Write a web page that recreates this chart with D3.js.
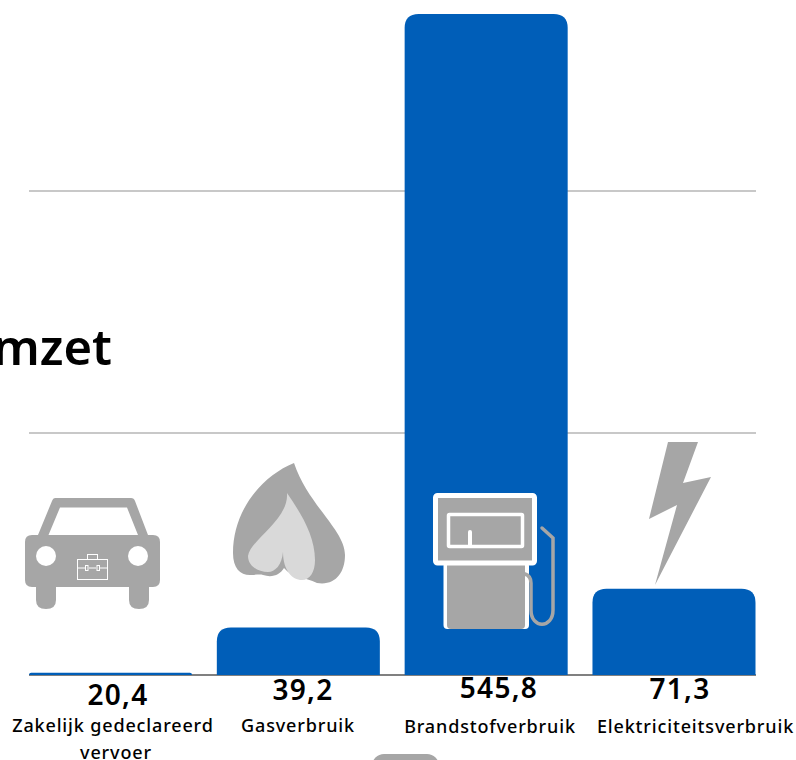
<!DOCTYPE html>
<html>
<head>
<meta charset="utf-8">
<script src="https://cdn.jsdelivr.net/npm/d3@7"></script>
<style>
html, body { margin: 0; padding: 0; background: #fff; overflow: hidden; }
text { font-family: "Noto Sans", sans-serif; fill: #000; }
</style>
</head>
<body>
<div id="chart"></div>
<script>
const categories = ['Zakelijk gedeclareerd vervoer', 'Gasverbruik', 'Brandstofverbruik', 'Elektriciteitsverbruik'];
// bar heights as drawn: the first bar is far lower than its printed label
const barValues = [1.8, 39.2, 545.8, 71.3];
const valueLabels = ['20,4', '39,2', '545,8', '71,3'];
const gridValues = [200, 400];

const width = 796, height = 760;
const BLUE = '#005eb8', GREY = '#a6a6a6';

const svg = d3.select('#chart').append('svg')
    .attr('width', width)
    .attr('height', height)
    .style('display', 'block');

const x = d3.scaleBand().domain(categories).range([29, 755.5]).paddingInner(0.132).paddingOuter(0);
const y = d3.scaleLinear().domain([0, 545.8]).range([675, 14]);

// title runs off the left edge in the original
svg.append('text')
    .attr('x', 112).attr('y', 365)
    .attr('text-anchor', 'end')
    .style('font-size', '49px').style('font-weight', 600)
    .text('Omzet');

svg.append('g').selectAll('line')
    .data(gridValues)
    .join('line')
    .attr('x1', 29).attr('x2', 756)
    .attr('y1', d => Math.round(y(d))).attr('y2', d => Math.round(y(d)))
    .attr('stroke', '#c8c8c8').attr('stroke-width', 2);

svg.append('line')
    .attr('x1', 29).attr('x2', 756)
    .attr('y1', y(0)).attr('y2', y(0))
    .attr('stroke', '#808080').attr('stroke-width', 2);

const barPath = (d) => {
    const x0 = x(d.c), x1 = x0 + x.bandwidth(), top = y(d.v), bottom = y(0);
    const r = Math.min(14, bottom - top);
    return 'M' + x0 + ',' + bottom + 'V' + (top + r) + 'Q' + x0 + ',' + top + ' ' + (x0 + r) + ',' + top
        + 'H' + (x1 - r) + 'Q' + x1 + ',' + top + ' ' + x1 + ',' + (top + r) + 'V' + bottom + 'Z';
};

svg.append('g').selectAll('path')
    .data(categories.map((c, i) => ({ c: c, v: barValues[i] })))
    .join('path')
    .attr('d', barPath)
    .attr('fill', BLUE);

// value labels sit at slightly different heights in the original
const labelBase = [705, 700, 698, 699];
const labelCenter = [118, 303, 499, 680];
svg.append('g').selectAll('text')
    .data(valueLabels)
    .join('text')
    .attr('x', (d, i) => labelCenter[i])
    .attr('y', (d, i) => labelBase[i])
    .attr('text-anchor', 'middle')
    .style('font-size', '28px').style('font-weight', 600)
    .style('letter-spacing', '1.3px')
    .text(d => d);

const catLines = [['Zakelijk gedeclareerd', 'vervoer'], ['Gasverbruik'], ['Brandstofverbruik'], ['Elektriciteitsverbruik']];
const catCenter = [113, 298, 490, 695.5];
const catBase = [732, 732, 733, 733];
const catG = svg.append('g').selectAll('text')
    .data(catLines)
    .join('text')
    .attr('text-anchor', 'middle')
    .style('font-size', '18px').style('font-weight', 500)
    .style('letter-spacing', '0.85px');
catG.selectAll('tspan')
    .data((d, i) => d.map((t, j) => ({ t: t, i: i, j: j })))
    .join('tspan')
    .attr('x', d => d.j ? 116 : catCenter[d.i])
    .attr('y', d => catBase[d.i] + d.j * 27)
    .text(d => d.t);

// grey pill cut off by the bottom edge
svg.append('rect')
    .attr('x', 372).attr('y', 754)
    .attr('width', 67).attr('height', 30)
    .attr('rx', 12)
    .attr('fill', GREY);

// car icon
const car = svg.append('g').attr('fill', GREY);
car.append('path')
    .attr('fill-rule', 'evenodd')
    .attr('d', 'M55,498H131Q134,498 135,501L148,535H153Q160,535 160,542V580Q160,587 153,587H149V600Q149,609 139,609Q129,609 129,600V587H56V600Q56,609 46,609Q36,609 36,600V587H32Q25,587 25,580V542Q25,535 32,535H38L52,501Q53,498 55,498Z'
        + 'M60,507.5L48.5,535H138L127,507.5Z');
car.append('circle').attr('cx', 46).attr('cy', 556).attr('r', 10).attr('fill', '#fff');
car.append('circle').attr('cx', 138).attr('cy', 556).attr('r', 10).attr('fill', '#fff');
const brief = svg.append('g').attr('fill', 'none').attr('stroke', '#fff').attr('stroke-width', 1);
brief.append('rect').attr('x', 77.5).attr('y', 559.5).attr('width', 30).attr('height', 20);
brief.append('rect').attr('x', 87.5).attr('y', 554.5).attr('width', 10).attr('height', 5);
brief.append('path').attr('d', 'M77.5,568H85M89,568H96M100,568H107.5');
brief.append('rect').attr('x', 85.5).attr('y', 565.5).attr('width', 2.5).attr('height', 5);
brief.append('rect').attr('x', 97).attr('y', 565.5).attr('width', 2.5).attr('height', 5);

// flame icon
svg.append('path')
    .attr('fill', GREY)
    .attr('d', 'M294,463C262,476 233,510 233,553C233,568 240,575 250,575C256,575 260,574 263,575C272,578 280,575 284,568C292,578 305,577 317,583C335,586 345,573 345,555C345,530 308,505 294,463Z');
svg.append('path')
    .attr('fill', '#d9d9d9')
    .attr('d', 'M287,493C289,520 250,540 248,556C248,566 258,572 268,572C275,572 282,565 283,552C283,570 292,580 302,580C310,580 315,572 315,560C315,535 300,512 287,493Z');

// fuel pump icon
const pump = svg.append('g');
pump.append('rect').attr('x', 443.5).attr('y', 562).attr('width', 85.5).attr('height', 67).attr('rx', 4).attr('fill', '#fff');
pump.append('rect').attr('x', 447).attr('y', 562).attr('width', 78).attr('height', 67).attr('rx', 4).attr('fill', GREY);
pump.append('rect').attr('x', 435.5).attr('y', 495.5).attr('width', 99).attr('height', 67.5).attr('rx', 2)
    .attr('fill', GREY).attr('stroke', '#fff').attr('stroke-width', 5);
pump.append('rect').attr('x', 448.5).attr('y', 514.5).attr('width', 74).attr('height', 32).attr('rx', 1)
    .attr('fill', 'none').attr('stroke', '#fff').attr('stroke-width', 3.5);
pump.append('path').attr('d', 'M470,532V545').attr('stroke', '#fff').attr('stroke-width', 4).attr('stroke-linecap', 'round');
pump.append('path')
    .attr('fill', 'none').attr('stroke', GREY).attr('stroke-width', 3.5).attr('stroke-linecap', 'round')
    .attr('d', 'M525,574Q531,576 531,583V610C531,629 553,629 553,610V538L542,528');

// lightning bolt icon
svg.append('path')
    .attr('fill', GREY)
    .attr('d', 'M668,442H698L683,483L711,477L655,585L677,505L649,519Z');
</script>
</body>
</html>
